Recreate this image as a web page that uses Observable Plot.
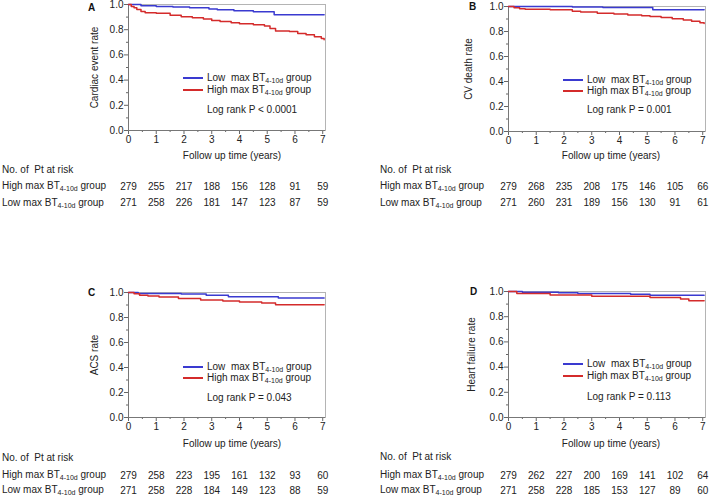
<!DOCTYPE html>
<html>
<head>
<meta charset="utf-8">
<script src="https://cdn.jsdelivr.net/npm/d3@7"></script>
<script src="https://cdn.jsdelivr.net/npm/@observablehq/plot@0.6"></script>
<style>
  body { margin: 0; background: #fff; }
  #root { position: relative; width: 709px; height: 497px; overflow: hidden; background: #fff;
          font-family: "Liberation Sans", Arial, sans-serif; font-size: 10px; color: #222; }
  .panel { position: absolute; }
  .lbl { position: absolute; line-height: 12px; white-space: pre; font-size: 10px; color: #222; }
  .sub { font-size: 7px; position: relative; top: 2px; }
  .key { position: absolute; width: 20px; height: 2px; }
</style>
</head>
<body>
<div id="root"></div>
<script>
// ---------- data ----------
const riskTimes = [0, 1, 2, 3, 4, 5, 6, 7];
const xMajor = [0, 1, 2, 3, 4, 5, 6, 7];
const xMinor = [0.5, 1.5, 2.5, 3.5, 4.5, 5.5, 6.5];
const yMajor = [0, 0.2, 0.4, 0.6, 0.8, 1.0];
const yMinor = [0.1, 0.3, 0.5, 0.7, 0.9];
const xLabel = "Follow up time (years)";
const riskTitle = "No. of  Pt at risk";

// Panel A: cardiac events
const aLowT  = [0, 0.45, 1.0, 1.6, 2.2, 2.9, 3.2, 3.8, 4.5, 5.25, 7.05];
const aLowS  = [1.0, 0.99, 0.985, 0.98, 0.975, 0.965, 0.958, 0.95, 0.943, 0.918, 0.918];
const aHighT = [0, 0.1, 0.2, 0.3, 0.45, 0.6, 1.0, 1.5, 1.9, 2.3, 2.7, 3.0, 3.3, 3.7, 4.0, 4.5, 4.9, 5.1, 5.3, 5.8, 6.1, 6.4, 6.7, 6.95, 7.05];
const aHighS = [1.0, 0.985, 0.975, 0.96, 0.945, 0.935, 0.93, 0.915, 0.903, 0.895, 0.885, 0.873, 0.865, 0.855, 0.848, 0.84, 0.83, 0.81, 0.79, 0.785, 0.77, 0.76, 0.745, 0.73, 0.72];
const aRiskHigh = [279, 255, 217, 188, 156, 128, 91, 59];
const aRiskLow  = [271, 258, 226, 181, 147, 123, 87, 59];

// Panel B: CV death
const bLowT  = [0, 2.3, 3.4, 5.2, 7.05];
const bLowS  = [1.0, 0.996, 0.992, 0.975, 0.975];
const bHighT = [0, 0.2, 0.4, 0.6, 1.5, 2.3, 2.6, 3.2, 3.8, 4.3, 4.8, 5.1, 5.5, 5.9, 6.3, 6.6, 6.9, 7.05];
const bHighS = [1.0, 0.99, 0.982, 0.978, 0.975, 0.962, 0.957, 0.947, 0.94, 0.933, 0.927, 0.92, 0.912, 0.903, 0.893, 0.882, 0.87, 0.865];
const bRiskHigh = [279, 268, 235, 208, 175, 146, 105, 66];
const bRiskLow  = [271, 260, 231, 189, 156, 130, 91, 61];

// Panel C: ACS
const cLowT  = [0, 0.35, 1.9, 2.8, 3.6, 5.4, 7.05];
const cLowS  = [1.0, 0.993, 0.988, 0.978, 0.966, 0.957, 0.957];
const cHighT = [0, 0.2, 0.4, 0.7, 1.1, 1.8, 2.6, 3.4, 4.0, 4.8, 5.3, 7.05];
const cHighS = [1.0, 0.99, 0.978, 0.972, 0.965, 0.952, 0.94, 0.933, 0.925, 0.917, 0.903, 0.903];
const cRiskHigh = [279, 258, 223, 195, 161, 132, 93, 60];
const cRiskLow  = [271, 258, 228, 184, 149, 123, 88, 59];

// Panel D: heart failure
const dLowT  = [0, 0.5, 1.8, 2.5, 4.4, 5.1, 7.05];
const dLowS  = [1.0, 0.995, 0.99, 0.985, 0.979, 0.97, 0.97];
const dHighT = [0, 0.3, 1.5, 3.0, 5.1, 6.2, 6.5, 7.05];
const dHighS = [1.0, 0.984, 0.972, 0.962, 0.952, 0.94, 0.926, 0.926];
const dRiskHigh = [279, 262, 227, 200, 169, 141, 102, 64];
const dRiskLow  = [271, 258, 228, 185, 153, 127, 89, 60];

const lowColor = "#3a3ad0";
const highColor = "#d42b2b";

const panels = [
  {letter: "A", yLabel: "Cardiac event rate", logRank: "Log rank P < 0.0001",
   lowT: aLowT, lowS: aLowS, highT: aHighT, highS: aHighS, riskHigh: aRiskHigh, riskLow: aRiskLow,
   left: 0, top: 0, width: 354, height: 215, mL: 128, mR: 29, mT: 4, mB: 85,
   dyHigh: 56, dyLow: 72.5, ylDx: -34, xlDy: 25, xlDx: 5, letDx: -37, letDy: 3,
   tbl: {x: 2, y: 170, yh: 186, yl: 202.5}, leg: {x: 183, yb: 78, yr: 90, ylr: 110}},
  {letter: "B", yLabel: "CV death rate", logRank: "Log rank P = 0.001",
   lowT: bLowT, lowS: bLowS, highT: bHighT, highS: bHighS, riskHigh: bRiskHigh, riskLow: bRiskLow,
   left: 354, top: 0, width: 355, height: 215, mL: 154, mR: 4, mT: 6, mB: 84,
   dyHigh: 55, dyLow: 71.5, ylDx: -40, xlDy: 24, xlDx: 4, letDx: -36, letDy: 0,
   tbl: {x: 380, y: 170, yh: 186, yl: 202.5}, leg: {x: 563, yb: 80, yr: 91, ylr: 110}},
  {letter: "C", yLabel: "ACS rate", logRank: "Log rank P = 0.043",
   lowT: cLowT, lowS: cLowS, highT: cHighT, highS: cHighS, riskHigh: cRiskHigh, riskLow: cRiskLow,
   left: 0, top: 288, width: 354, height: 209, mL: 128, mR: 29, mT: 4, mB: 80,
   dyHigh: 58.5, dyLow: 73.5, ylDx: -34, xlDy: 26.5, xlDx: 5, letDx: -37, letDy: 0,
   tbl: {x: 2, y: 458, yh: 475, yl: 490}, leg: {x: 183, yb: 367, yr: 378, ylr: 398}},
  {letter: "D", yLabel: "Heart failure rate", logRank: "Log rank P = 0.113",
   lowT: dLowT, lowS: dLowS, highT: dHighT, highS: dHighS, riskHigh: dRiskHigh, riskLow: dRiskLow,
   left: 354, top: 287, width: 355, height: 210, mL: 154, mR: 4, mT: 4, mB: 80,
   dyHigh: 58.5, dyLow: 73.5, ylDx: -37, xlDy: 26.5, xlDx: 4, letDx: -35, letDy: 0,
   tbl: {x: 380, y: 457, yh: 475, yl: 490}, leg: {x: 563, yb: 364, yr: 376, ylr: 397}}
];

const root = document.getElementById("root");

function groupLabel(level) {
  return `${level} max BT<span class="sub">4-10d</span> group`;
}
function addLabel(html, x, yc) {
  const d = document.createElement("div");
  d.className = "lbl";
  d.style.left = x + "px";
  d.style.top = (yc - 6) + "px";
  d.innerHTML = html;
  root.appendChild(d);
}
function addKey(color, x, yc) {
  const d = document.createElement("div");
  d.className = "key";
  d.style.left = x + "px";
  d.style.top = (yc - 1) + "px";
  d.style.background = color;
  root.appendChild(d);
}

for (const p of panels) {
  const low = p.lowT.map((t, i) => ({t, s: p.lowS[i]}));
  const high = p.highT.map((t, i) => ({t, s: p.highS[i]}));
  const chart = Plot.plot({
    width: p.width, height: p.height,
    marginLeft: p.mL, marginRight: p.mR, marginTop: p.mT, marginBottom: p.mB,
    x: {domain: [0, 7.1]},
    y: {domain: [0, 1]},
    style: {fontFamily: '"Liberation Sans", Arial, sans-serif', fontSize: "10px", background: "transparent", overflow: "visible", color: "#222"},
    marks: [
      Plot.frame({stroke: "#b4b4b4"}),
      Plot.axisX(xMajor, {tickSize: 4, tickPadding: 1, tickFormat: d => String(d), label: null, stroke: "#666", fill: "#222", fontSize: 10}),
      Plot.axisX(xMinor, {tickSize: 2, tickFormat: () => "", label: null, stroke: "#666"}),
      Plot.axisY(yMajor, {tickSize: 4, tickPadding: 1, tickFormat: d => d.toFixed(1), label: null, stroke: "#666", fill: "#222", fontSize: 10}),
      Plot.axisY(yMinor, {tickSize: 2, tickFormat: () => "", label: null, stroke: "#666"}),
      Plot.ruleX([0], {stroke: "#777"}),
      Plot.ruleY([0], {stroke: "#777"}),
      Plot.line(low, {x: "t", y: "s", curve: "step-after", stroke: lowColor, strokeWidth: 1.5}),
      Plot.line(high, {x: "t", y: "s", curve: "step-after", stroke: highColor, strokeWidth: 1.5}),
      Plot.text(p.riskHigh, {x: (d, i) => riskTimes[i], text: d => String(d), frameAnchor: "bottom", dy: p.dyHigh, textAnchor: "middle", lineAnchor: "middle", fill: "#222", fontSize: 10}),
      Plot.text(p.riskLow, {x: (d, i) => riskTimes[i], text: d => String(d), frameAnchor: "bottom", dy: p.dyLow, textAnchor: "middle", lineAnchor: "middle", fill: "#222", fontSize: 10}),
      Plot.text([p.yLabel], {frameAnchor: "left", rotate: -90, dx: p.ylDx, textAnchor: "middle", lineAnchor: "middle", fill: "#222", fontSize: 10}),
      Plot.text([xLabel], {frameAnchor: "bottom", dy: p.xlDy, dx: p.xlDx, textAnchor: "middle", lineAnchor: "middle", fill: "#222", fontSize: 10}),
      Plot.text([p.letter], {frameAnchor: "top-left", dx: p.letDx, dy: p.letDy, textAnchor: "middle", lineAnchor: "middle", fontWeight: "bold", fill: "#111", fontSize: 10})
    ]
  });
  const wrap = document.createElement("div");
  wrap.className = "panel";
  wrap.style.left = p.left + "px";
  wrap.style.top = p.top + "px";
  wrap.appendChild(chart);
  root.appendChild(wrap);

  // legend + log rank
  addKey(lowColor, p.leg.x, p.leg.yb);
  addKey(highColor, p.leg.x, p.leg.yr);
  addLabel(groupLabel("Low "), p.leg.x + 24, p.leg.yb);
  addLabel(groupLabel("High"), p.leg.x + 24, p.leg.yr);
  addLabel(p.logRank, p.leg.x + 24, p.leg.ylr);

  // risk table labels
  addLabel(riskTitle, p.tbl.x, p.tbl.y);
  addLabel(groupLabel("High"), p.tbl.x, p.tbl.yh);
  addLabel(groupLabel("Low"), p.tbl.x, p.tbl.yl);
}
</script>
</body>
</html>
